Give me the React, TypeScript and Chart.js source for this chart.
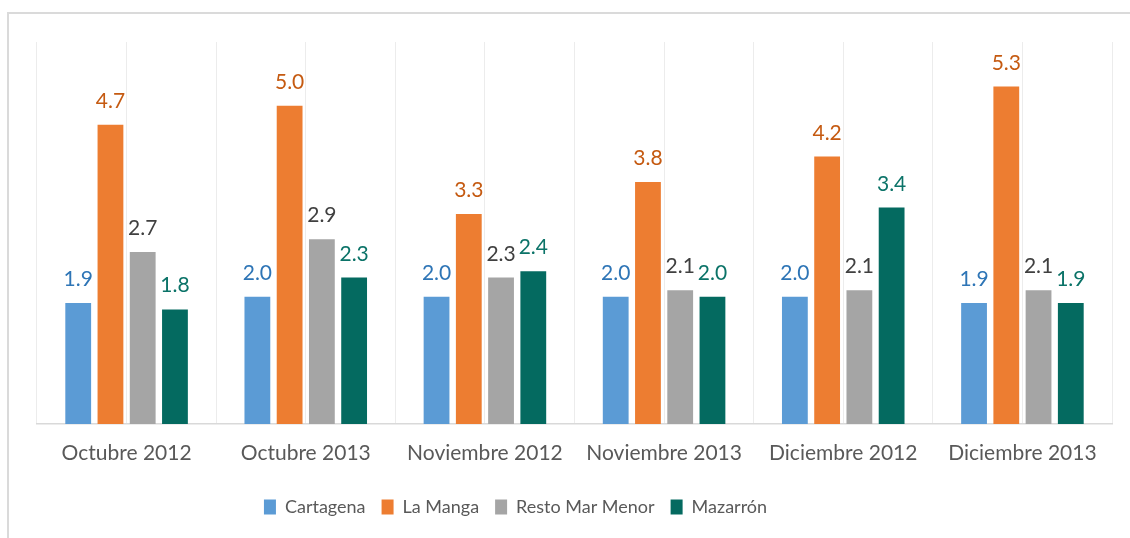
import React, { useEffect, useRef } from "react";
import { Chart, registerables } from "chart.js";

Chart.register(...registerables);

const categories = [
  "Octubre 2012",
  "Octubre 2013",
  "Noviembre 2012",
  "Noviembre 2013",
  "Diciembre 2012",
  "Diciembre 2013",
];
const seriesNames = ["Cartagena", "La Manga", "Resto Mar Menor", "Mazarrón"];
const cartagena = [1.9, 2.0, 2.0, 2.0, 2.0, 1.9];
const laManga = [4.7, 5.0, 3.3, 3.8, 4.2, 5.3];
const restoMarMenor = [2.7, 2.9, 2.3, 2.1, 2.1, 2.1];
const mazarron = [1.8, 2.3, 2.4, 2.0, 3.4, 1.9];
const yMin = 0;
const yMax = 6;

const barColors = ["#5B9BD5", "#ED7D31", "#A5A5A5", "#046A60"];
const labelColors = ["#2E75B6", "#C55A11", "#404040", "#0B7368"];
const FONT = "Lato, 'Open Sans', sans-serif";

const valueLabels = {
  id: "valueLabels",
  afterDatasetsDraw(chart: any) {
    const ctx = chart.ctx;
    ctx.save();
    ctx.font = `21px ${FONT}`;
    ctx.textAlign = "center";
    ctx.textBaseline = "alphabetic";
    chart.data.datasets.forEach((ds: any, i: number) => {
      const meta = chart.getDatasetMeta(i);
      meta.data.forEach((bar: any, j: number) => {
        ctx.fillStyle = labelColors[i];
        ctx.fillText(Number(ds.data[j]).toFixed(1), bar.x, bar.y - 17);
      });
    });
    ctx.restore();
  },
};

const legendShift = {
  id: "legendShift",
  afterLayout(chart: any) {
    const l = chart.legend;
    if (l) {
      l.left -= 59;
      l.right -= 59;
    }
  },
};

export default function App() {
  const canvasRef = useRef<HTMLCanvasElement | null>(null);

  useEffect(() => {
    if (!canvasRef.current) return;
    const series = [cartagena, laManga, restoMarMenor, mazarron];
    const chart = new Chart(canvasRef.current, {
      type: "bar",
      data: {
        labels: categories,
        datasets: series.map((d, i) => ({
          label: seriesNames[i],
          data: d,
          backgroundColor: barColors[i],
          borderWidth: 0,
          categoryPercentage: 0.72,
          barPercentage: 0.8,
        })),
      },
      options: {
        responsive: false,
        animation: false,
        layout: { padding: { left: 37, right: 18, top: 42, bottom: 12 } },
        scales: {
          x: {
            position: "bottom",
            grid: { color: "#ececec", lineWidth: 1, drawTicks: false, offset: true },
            border: { color: "#d9d9d9", width: 1.5 },
            ticks: {
              color: "#595959",
              font: { family: FONT, size: 21 },
              padding: 17,
              maxRotation: 0,
              autoSkip: false,
            },
            afterFit: (scale: any) => {
              scale.height = 58;
            },
          },
          x2: {
            type: "category",
            labels: categories,
            position: "top",
            offset: true,
            grid: { color: "#ececec", lineWidth: 1, drawTicks: false, offset: false },
            border: { display: false },
            ticks: { display: false },
            afterFit: (scale: any) => {
              scale.height = 0;
            },
          },
          y: {
            display: false,
            min: yMin,
            max: yMax,
          },
        },
        plugins: {
          legend: {
            position: "bottom",
            labels: {
              color: "#595959",
              font: { family: FONT, size: 18 },
              boxWidth: 12,
              boxHeight: 15,
              padding: 16,
            },
          },
          tooltip: { enabled: false },
        },
      },
      plugins: [valueLabels, legendShift],
    });
    if ((document as any).fonts) {
      (document as any).fonts.load(`21px Lato`).then(() => chart.update());
    }
    return () => chart.destroy();
  }, []);

  return (
    <div
      style={{
        position: "fixed",
        left: 0,
        top: 0,
        width: 1130,
        height: 538,
        background: "#ffffff",
      }}
    >
      <div
        style={{
          position: "absolute",
          left: 7,
          top: 12,
          width: 1130,
          height: 524,
          borderTop: "2px solid #dadada",
          borderLeft: "2px solid #dadada",
          borderBottom: "2px solid #f0f0f0",
        }}
      />
      <canvas
        ref={canvasRef}
        width={1130}
        height={538}
        style={{ position: "absolute", left: 0, top: 0 }}
      />
    </div>
  );
}
